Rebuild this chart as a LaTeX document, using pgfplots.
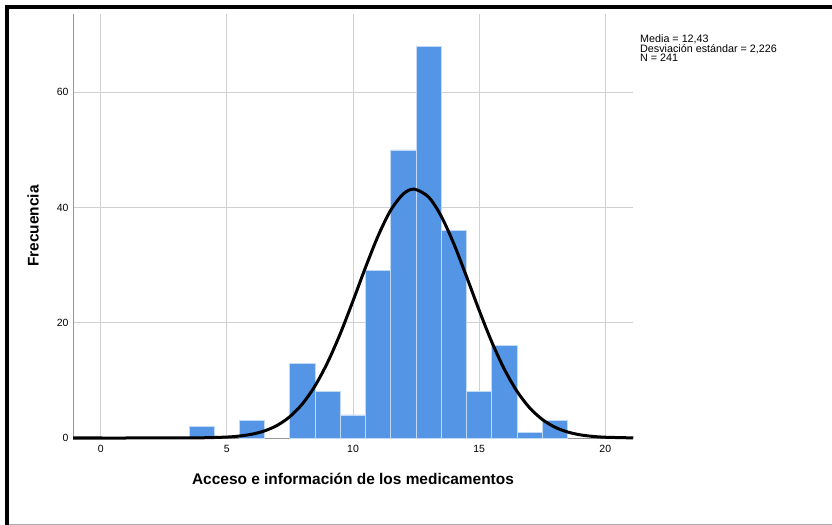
\documentclass[border=0pt]{standalone}
\usepackage{pgfplots}
\pgfplotsset{compat=1.18}
\usepackage{fontspec}
\setmainfont{Liberation Sans}
\definecolor{barblue}{RGB}{84,149,230}
\definecolor{baredge}{RGB}{195,218,246}
\definecolor{gridgray}{RGB}{208,208,208}
\definecolor{axgray}{RGB}{150,150,150}
\begin{document}
\begin{tikzpicture}
\path[use as bounding box] (0,0) rectangle (832bp,525bp);
\begin{axis}[
  at={(73bp,87bp)}, anchor=south west,
  scale only axis, width=560bp, height=424bp,
  xmin=-1.1, xmax=21.1, ymin=0, ymax=73.6,
  axis x line*=bottom, axis y line*=left,
  axis line style={axgray, line width=1bp, -},
  xtick={0,5,10,15,20}, ytick={0,20,40,60},
  major tick length=0pt,
  grid=major, grid style={gridgray, line width=0.9bp},
  /pgf/number format/assume math mode=true,
  tick label style={font=\fontsize{10.5}{12}\selectfont},
  xticklabel style={yshift=-4bp},
  yticklabel style={xshift=-1bp},
  xlabel={Acceso e información de los medicamentos},
  ylabel={Frecuencia},
  xlabel style={at={(axis description cs:0.5,-0.0967)}, anchor=center, font=\fontsize{15.5}{17}\selectfont\bfseries},
  ylabel style={at={(axis description cs:-0.0714,0.5)}, anchor=center, font=\fontsize{15.5}{17}\selectfont\bfseries},
  clip=false,
  axis on top=false,
]
\addplot[ybar, bar width=1, fill=barblue, draw=baredge, line width=0.9bp] coordinates {
 (4,2) (6,3) (8,13) (9,8) (10,4) (11,29) (12,50) (13,68) (14,36) (15,8) (16,16) (17,1) (18,3)
};
\addplot[black, line width=3bp, smooth, no marks] coordinates {
 (-1.1,0) (0,0) (1,0) (2,0.001) (3,0.006) (4,0.033) (5,0.164) (5.5,0.340) (6,0.666) (6.5,1.243)
 (7,2.204) (7.5,3.719) (8,5.961) (8.5,9.09) (9,13.18) (9.5,18.16) (10,23.80) (10.5,29.66)
 (11,35.13) (11.5,39.58) (12,42.39) (12.43,43.19) (13,41.80) (13.5,38.48) (14,33.68)
 (14.5,28.03) (15,22.18) (15.5,16.68) (16,11.94) (16.5,8.12) (17,5.25) (17.5,3.23)
 (18,1.887) (18.5,1.049) (19,0.554) (19.5,0.279) (20,0.133) (21,0.026) (21.1,0.02)
};
\end{axis}
\node[anchor=north west, inner sep=0pt, align=left, font=\fontsize{10.8}{9.5}\selectfont] at (640bp,490bp)
 {Media = 12,43\\Desviación estándar = 2,226\\N = 241};
\draw[black, line width=4bp] (7bp,0bp) -- (7bp,518bp) -- (832bp,518bp);
\draw[axgray!80, line width=1bp] (9bp,1bp) -- (832bp,1bp);
\end{tikzpicture}
\end{document}
